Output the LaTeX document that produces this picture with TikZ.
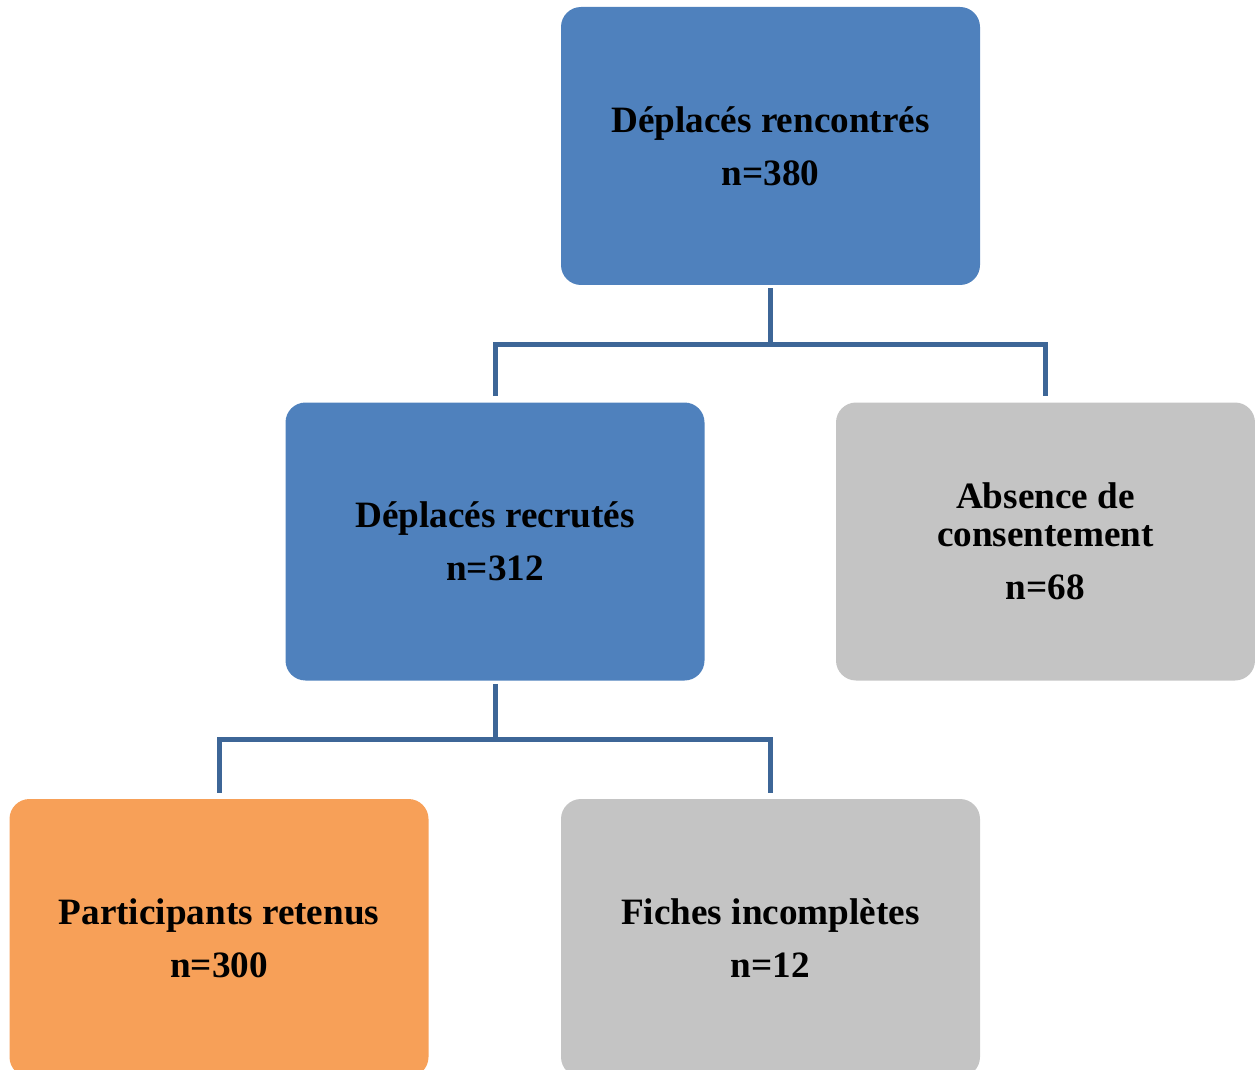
\documentclass[tikz,border=0pt]{standalone}
\usepackage{fontspec}
\setmainfont{Liberation Serif}
\definecolor{boxblue}{HTML}{4F81BD}
\definecolor{boxgray}{HTML}{C4C4C4}
\definecolor{boxorange}{HTML}{F7A058}
\definecolor{linkblue}{HTML}{3D6697}

\begin{document}
\begin{tikzpicture}[x=0.5pt, y=-0.5pt,
	box/.style={rectangle, rounded corners=10pt, inner sep=0pt,
		minimum width=209.5pt, minimum height=139pt, align=center,
		font=\fontsize{18.6}{19}\selectfont\bfseries},
	link/.style={draw=linkblue, line width=2.5pt}]
	\useasboundingbox (0,0) rectangle (1255,1070);
	\begin{scope}
	\clip (0,0) rectangle (1255,1070);
	\node[box, fill=boxblue] (rencontres) at (770.5,146) {Déplacés rencontrés\\[7.5pt]n=380};
	\node[box, fill=boxblue] (recrutes) at (495,541.5) {Déplacés recrutés\\[7.5pt]n=312};
	\node[box, fill=boxgray] (absence) at (1045.5,541.5) {Absence de\\consentement\\[7.5pt]n=68};
	\node[box, fill=boxorange] (retenus) at (219,938) {Participants retenus\\[7.5pt]n=300};
	\node[box, fill=boxgray] (incompletes) at (770.5,938) {Fiches incomplètes\\[7.5pt]n=12};
	\end{scope}
	% first split
	\draw[link, shorten <=1.5pt] (rencontres.south) -- ++(0,59) coordinate (fork1);
	\draw[link, shorten <=3pt, shorten >=3pt] (recrutes.north) |- (fork1) -| (absence.north);
	% second split
	\draw[link, shorten <=1.5pt] (recrutes.south) -- ++(0,59) coordinate (fork2);
	\draw[link, shorten <=3pt, shorten >=3pt] (retenus.north) |- (fork2) -| (incompletes.north);
\end{tikzpicture}
\end{document}
